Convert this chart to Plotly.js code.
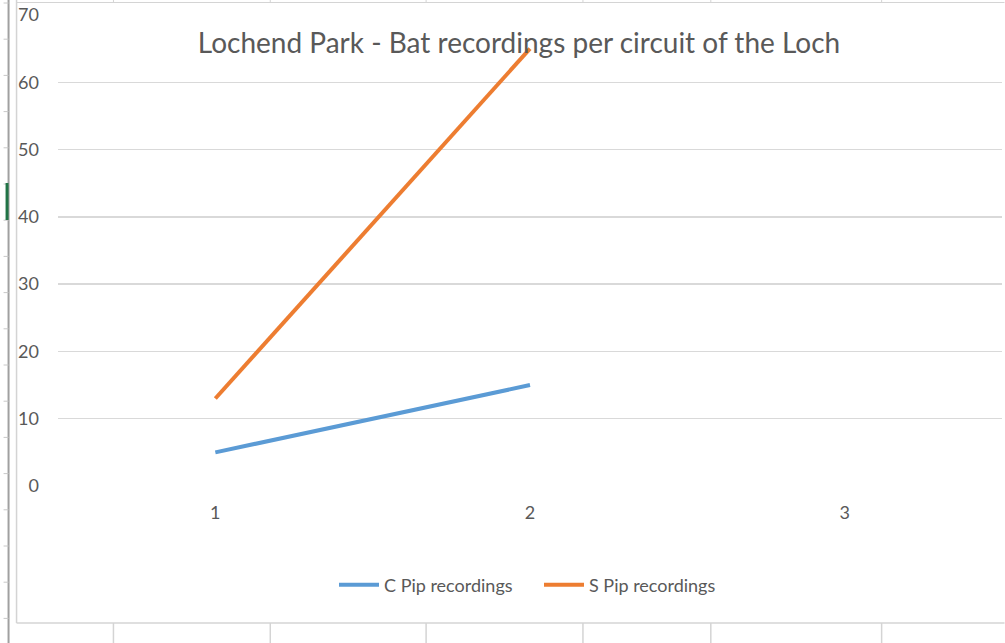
<!DOCTYPE html>
<html>
<head>
<meta charset="utf-8">
<script src="https://cdn.plot.ly/plotly-3.0.1.min.js"></script>
<style>html,body{margin:0;padding:0;background:#fff;}#chart{width:1005px;height:643px;}</style>
</head>
<body>
<div id="chart"></div>
<script>
// ---- data ----
var categories = ['1', '2', '3'];
var cPipRecordings = [5, 15, null];
var sPipRecordings = [13, 65, null];
var seriesNames = ['C Pip recordings', 'S Pip recordings'];
var chartTitle = 'Lochend Park - Bat recordings per circuit of the Loch';

// ---- layout geometry ----
var W = 1005, H = 643;
var L = 57.5, R = 2.5, T = 15, B = 157;
var pw = W - L - R, ph = H - T - B;
function px(x) { return (x - L) / pw; }
function py(y) { return (H - B - y) / ph; }

var shapes = [];
function line(x0, y0, x1, y1, color, width) {
  shapes.push({type: 'line', xref: 'paper', yref: 'paper',
    x0: px(x0), y0: py(y0), x1: px(x1), y1: py(y1),
    line: {color: color, width: width}, layer: 'above'});
}
// spreadsheet chrome around the chart
line(16, 2.5, 1005, 2.5, '#d4d4d4', 1);
line(16, 623, 1005, 623, '#d4d4d4', 1.5);
line(16, 0, 16, 623, '#d4d4d4', 1.5);
[113, 270, 426, 583, 711, 882].forEach(function (x) {
  line(x, 0, x, 2.5, '#d4d4d4', 1);
  line(x, 623, x, 643, '#d4d4d4', 1.5);
});
line(8, 0, 8, 643, '#a0a0a0', 2);
for (var ty = 3; ty < 643; ty += 36.2) { line(3, ty, 8, ty, '#c8c8c8', 1); }
shapes.push({type: 'rect', xref: 'paper', yref: 'paper',
  x0: px(5), x1: px(8), y0: py(220), y1: py(183),
  fillcolor: '#217346', line: {width: 0}, layer: 'above'});

var font = 'Lato, "Open Sans", sans-serif';

var traces = [
  {x: categories, y: cPipRecordings, name: seriesNames[0], type: 'scatter', mode: 'lines',
   line: {color: '#5b9bd5', width: 4}, connectgaps: false},
  {x: categories, y: sPipRecordings, name: seriesNames[1], type: 'scatter', mode: 'lines',
   line: {color: '#ed7d31', width: 4}, connectgaps: false}
];

var layout = {
  width: W, height: H,
  margin: {l: L, r: R, t: T, b: B, pad: 0},
  paper_bgcolor: '#ffffff', plot_bgcolor: '#ffffff',
  font: {family: font, color: '#595959', size: 16},
  title: {text: chartTitle, x: 519 / W, xanchor: 'center', xref: 'container',
    y: 1 - 43 / H, yanchor: 'middle', yref: 'container',
    font: {family: font, size: 28, color: '#595959'}},
  xaxis: {type: 'category', range: [-0.5, 2.5], showgrid: false, zeroline: false,
    showline: false, ticks: '', ticklabelstandoff: 14,
    tickfont: {size: 18, color: '#595959'}, fixedrange: true},
  yaxis: {range: [0, 70], dtick: 10, tick0: 0, showgrid: true, gridcolor: '#d9d9d9',
    gridwidth: 1.3, zeroline: false, showline: false, ticks: '', ticklabelstandoff: 18,
    tickfont: {size: 18, color: '#595959'}, fixedrange: true},
  showlegend: true,
  legend: {orientation: 'h', xref: 'container', yref: 'container',
    x: 539 / W, xanchor: 'center', y: 1 - 585 / H, yanchor: 'middle',
    entrywidth: 150, itemwidth: 40,
    font: {size: 18, color: '#595959'}, bgcolor: 'rgba(0,0,0,0)'},
  shapes: shapes
};

Plotly.newPlot('chart', traces, layout, {displayModeBar: false, staticPlot: true});
</script>
</body>
</html>
